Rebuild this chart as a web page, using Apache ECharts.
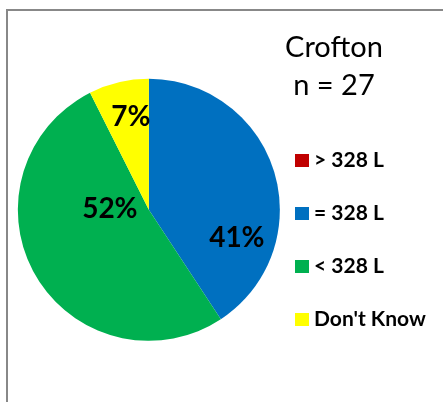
<!DOCTYPE html>
<html>
<head>
<meta charset="utf-8">
<script src="https://cdn.jsdelivr.net/npm/echarts@6/dist/echarts.min.js"></script>
<style>
  html, body { margin: 0; padding: 0; background: #fff; }
  #chart { width: 443px; height: 402px; }
</style>
</head>
<body>
<div id="chart"></div>
<script>
var categories = ['> 328 L', '= 328 L', '< 328 L', "Don't Know"];
var counts = [0, 11, 14, 2];
var colors = ['#C00000', '#0070C0', '#00B050', '#FFFF00'];
var titleLines = ['Crofton', 'n = 27'];

var chart = echarts.init(document.getElementById('chart'));

var pieData = categories.map(function (name, i) {
    return { name: name, value: counts[i], itemStyle: { color: colors[i] } };
});

var cx = 443 * 0.336, cy = 402 * 0.522, R = 131;
// hand-placed label spots (offset from pie centre), as in the original
var labelSpots = [[0, 0], [88, 28], [-39, -1], [-18, -93]];

option = {
    animation: false,
    title: {
        text: titleLines.join('\n'),
        left: 329,
        top: 24,
        textAlign: 'center',
        textStyle: {
            fontFamily: 'Lato',
            fontSize: 29,
            fontWeight: 'normal',
            color: '#000',
            lineHeight: 38
        }
    },
    legend: {
        orient: 'vertical',
        left: 295,
        top: 150,
        padding: 0,
        itemWidth: 14,
        itemHeight: 13,
        itemGap: 32,
        icon: 'rect',
        data: categories,
        textStyle: {
            fontFamily: 'Lato',
            fontSize: 21,
            fontWeight: 'bold',
            color: '#000',
            lineHeight: 20
        }
    },
    graphic: [{
        type: 'rect',
        shape: { x: 7, y: 10, width: 600, height: 600 },
        style: { fill: 'none', stroke: '#888888', lineWidth: 2 },
        silent: true
    }],
    series: [{
        type: 'pie',
        center: ['33.6%', '52.2%'],
        radius: [0, R],
        startAngle: 90,
        clockwise: true,
        avoidLabelOverlap: false,
        label: {
            show: true,
            position: 'inside',
            fontFamily: 'Lato',
            fontSize: 28,
            fontWeight: 'bold',
            color: '#000',
            formatter: function (p) {
                return p.value ? Math.round(p.percent) + '%' : '';
            }
        },
        labelLine: { show: false },
        labelLayout: function (p) {
            var s = labelSpots[p.dataIndex];
            return { x: cx + s[0], y: cy + s[1], align: 'center', verticalAlign: 'middle' };
        },
        emphasis: { disabled: true },
        data: pieData
    }]
};
chart.setOption(option);
</script>
</body>
</html>
